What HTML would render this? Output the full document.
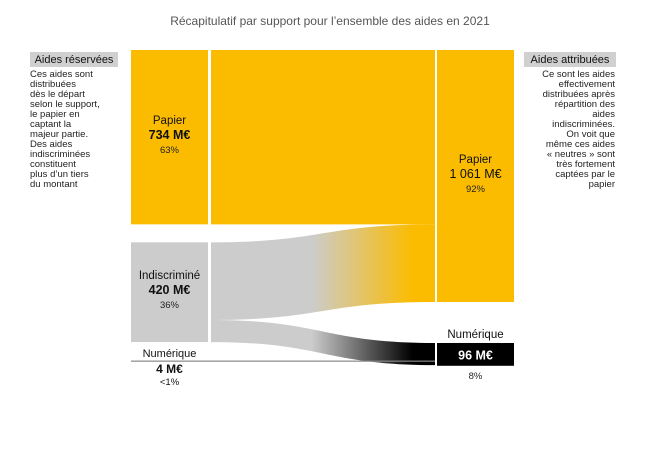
<!DOCTYPE html>
<html><head><meta charset="utf-8"><style>
body{margin:0;background:#fff;font-family:"Liberation Sans",sans-serif}
svg text{font-family:"Liberation Sans",sans-serif}
</style></head><body>
<svg id="c" width="661" height="468" viewBox="0 0 661 468">
<defs>
<linearGradient id="g1" x1="0" x2="1"><stop offset="0.45" stop-color="#cccccc"/><stop offset="0.9" stop-color="#fbbc00"/></linearGradient>
<linearGradient id="g2" x1="0" x2="1"><stop offset="0.45" stop-color="#cccccc"/><stop offset="0.9" stop-color="#000"/></linearGradient>
</defs>
<text x="330" y="25" text-anchor="middle" font-size="12" fill="#555">Récapitulatif par support pour l’ensemble des aides en 2021</text>
<rect x="30" y="52" width="88" height="15" fill="#d0d0d0"/>
<text x="74" y="63" text-anchor="middle" font-size="11" fill="#111">Aides réservées</text>
<text font-size="9.5" fill="#222">
<tspan x="30" y="77">Ces aides sont</tspan><tspan x="30" y="87">distribuées</tspan><tspan x="30" y="97">dès le départ</tspan><tspan x="30" y="107">selon le support,</tspan><tspan x="30" y="117">le papier en</tspan><tspan x="30" y="127">captant la</tspan><tspan x="30" y="137">majeur partie.</tspan><tspan x="30" y="147">Des aides</tspan><tspan x="30" y="157">indiscriminées</tspan><tspan x="30" y="167">constituent</tspan><tspan x="30" y="177">plus d’un tiers</tspan><tspan x="30" y="187">du montant</tspan></text>
<rect x="524" y="52" width="92" height="15" fill="#d0d0d0"/>
<text x="570" y="63" text-anchor="middle" font-size="11" fill="#111">Aides attribuées</text>
<text font-size="9.5" fill="#222" text-anchor="end">
<tspan x="615" y="77">Ce sont les aides</tspan><tspan x="615" y="87">effectivement</tspan><tspan x="615" y="97">distribuées après</tspan><tspan x="615" y="107">répartition des</tspan><tspan x="615" y="117">aides</tspan><tspan x="615" y="127">indiscriminées.</tspan><tspan x="615" y="137">On voit que</tspan><tspan x="615" y="147">même ces aides</tspan><tspan x="615" y="157">« neutres » sont</tspan><tspan x="615" y="167">très fortement</tspan><tspan x="615" y="177">captées par le</tspan><tspan x="615" y="187">papier</tspan></text>
<g id="marks"></g>
</svg>
<script>
const leftNames=["Papier","Indiscriminé","Numérique"];
const leftValues=[734,420,4];
const leftPct=["63%","36%","<1%"];
const rightNames=["Papier","Numérique"];
const rightValues=[1061,96];
const rightPct=["92%","8%"];
const flowFrom=[0,1,1,2];
const flowTo=[0,0,1,1];
const flowValues=[734,327,93,4];
const k=0.2375, topY=50, gapL=18, gapR=41;
const lx=131,lw=77,rx=437,rw=77,fx0=211,fx1=435;
const NS="http://www.w3.org/2000/svg";
const g=document.getElementById('marks');
function mk(t,a){const e=document.createElementNS(NS,t);for(const x in a)e.setAttribute(x,a[x]);g.appendChild(e);return e;}
function txt(x,y,s,size,w,fill){const e=mk('text',{x:x,y:y,'text-anchor':'middle','font-size':size,'font-weight':w,fill:fill});e.textContent=s;return e;}
const ly=[],ry=[];let yy=topY;
leftValues.forEach(v=>{ly.push(yy);yy+=v*k+gapL;});
yy=topY;rightValues.forEach(v=>{ry.push(yy);yy+=v*k+gapR;});
const lo=ly.slice(),ro=ry.slice();
flowValues.forEach((v,i)=>{
 const h=v*k,a=lo[flowFrom[i]],b=ro[flowTo[i]];lo[flowFrom[i]]+=h;ro[flowTo[i]]+=h;
 if(v<10)return;
 const m=(fx0+fx1)/2;
 let fill=flowFrom[i]===0?'#fbbc00':(flowTo[i]===0?'url(#g1)':'url(#g2)');
 const p=mk('path',{d:`M${fx0},${a}C${m},${a} ${m},${b} ${fx1},${b}L${fx1},${b+h}C${m},${b+h} ${m},${a+h} ${fx0},${a+h}Z`,fill:fill});
 
 
});
const lc=['#fbbc00','#cccccc','#000'];
leftValues.forEach((v,i)=>{
 const h=v*k,y0=ly[i];
 if(v<10){
  const r=mk('rect',{x:lx,y:y0+h/2,width:fx1-lx,height:1.2,fill:'#888'});
  
  
  txt(lx+lw/2,y0-3,leftNames[i],11,'normal','#111');
  txt(lx+lw/2,y0+13,v+' M€',12,'bold','#111');
  txt(lx+lw/2,y0+25,leftPct[i],9.5,'normal','#111');
  return;
 }
 const r=mk('rect',{x:lx,y:y0,width:lw,height:h,fill:lc[i]});
 
 
 const c=y0+h/2;
 txt(lx+lw/2,c-13,leftNames[i],11.5,'normal','#111');
 txt(lx+lw/2,c+2,v+' M€',12.5,'bold','#111');
 txt(lx+lw/2,c+16,leftPct[i],9.5,'normal','#222');
});
const rc=['#fbbc00','#000'];
function fmt(v){const s=String(v);return s.length>3?s.slice(0,s.length-3)+' '+s.slice(-3):s;}
rightValues.forEach((v,i)=>{
 const h=v*k,y0=ry[i];
 const r=mk('rect',{x:rx,y:y0,width:rw,height:h,fill:rc[i]});
 
 
 const lbl=fmt(v)+' M€';
 if(i===0){const c=y0+h/2;
  txt(rx+rw/2,c-13,rightNames[i],11.5,'normal','#111');
  txt(rx+rw/2,c+2,lbl,12.5,'normal','#111');
  txt(rx+rw/2,c+16,rightPct[i],9.5,'normal','#222');
 }else{
  txt(rx+rw/2,y0-5,rightNames[i],11.5,'normal','#111');
  txt(rx+rw/2,y0+h/2+5,lbl,12.5,'bold','#fff');
  txt(rx+rw/2,y0+h+13,rightPct[i],9.5,'normal','#222');
 }
});
</script>
</body></html>
